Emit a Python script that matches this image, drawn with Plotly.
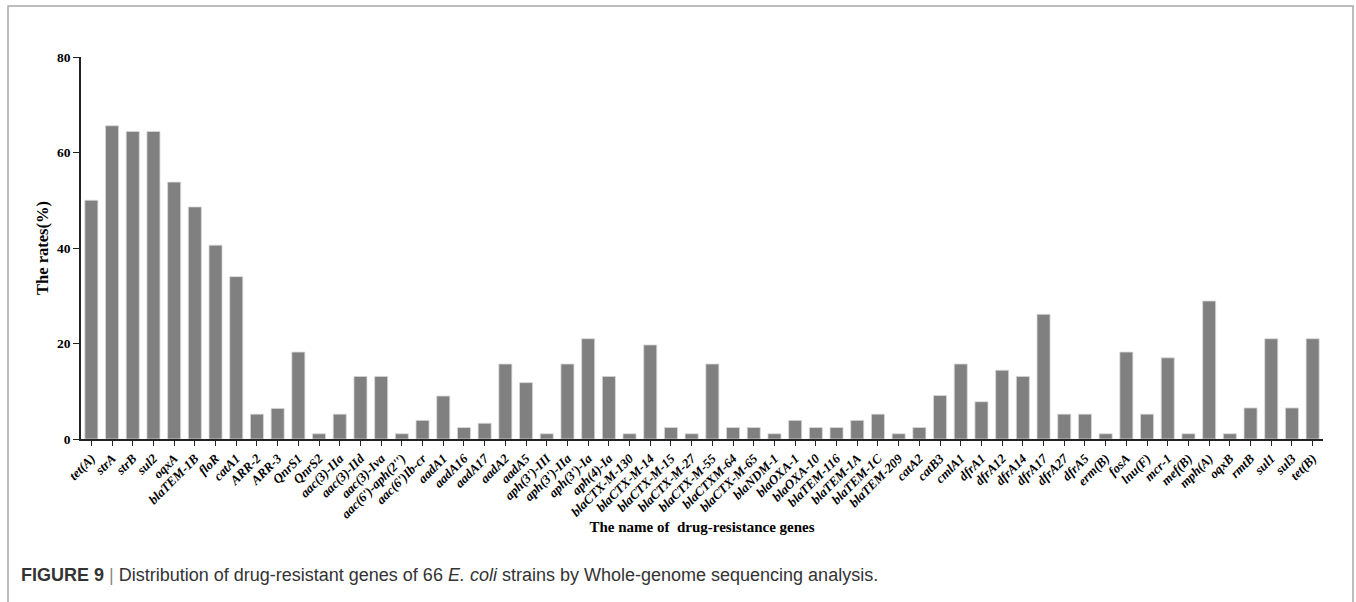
import plotly.graph_objects as go

# Drug-resistance genes detected by WGS and their detection rates (%)
genes = [
    "tet(A)", "strA", "strB", "sul2", "oqxA", "blaTEM-1B", "floR", "catA1",
    "ARR-2", "ARR-3", "QnrS1", "QnrS2", "aac(3)-IIa", "aac(3)-IId", "aac(3)-Iva",
    "aac(6')-aph(2'')", "aac(6')Ib-cr", "aadA1", "aadA16", "aadA17", "aadA2",
    "aadA5", "aph(3')-III", "aph(3')-IIa", "aph(3')-Ia", "aph(4)-Ia",
    "blaCTX-M-130", "blaCTX-M-14", "blaCTX-M-15", "blaCTX-M-27", "blaCTX-M-55",
    "blaCTXM-64", "blaCTX-M-65", "blaNDM-1", "blaOXA-1", "blaOXA-10",
    "blaTEM-116", "blaTEM-1A", "blaTEM-1C", "blaTEM-209", "catA2", "catB3",
    "cmlA1", "dfrA1", "dfrA12", "dfrA14", "dfrA17", "dfrA27", "dfrA5", "erm(B)",
    "fosA", "lnu(F)", "mcr-1", "mef(B)", "mph(A)", "oqxB", "rmtB", "sul1",
    "sul3", "tet(B)",
]
rates = [
    50.0, 65.6, 64.4, 64.4, 53.8, 48.6, 40.6, 34.0,
    5.2, 6.4, 18.2, 1.1, 5.2, 13.1, 13.1,
    1.1, 3.9, 9.0, 2.4, 3.3, 15.7,
    11.8, 1.1, 15.7, 21.0, 13.1,
    1.1, 19.7, 2.4, 1.1, 15.7,
    2.4, 2.4, 1.1, 3.9, 2.4,
    2.4, 3.9, 5.2, 1.1, 2.4, 9.1,
    15.7, 7.8, 14.4, 13.1, 26.1, 5.2, 5.2, 1.1,
    18.2, 5.2, 17.0, 1.1, 28.9, 1.1, 6.5, 21.0,
    6.5, 21.0,
]
y_ticks = [0, 20, 40, 60, 80]

tick_text = [f"<b><i>{g}</i></b>" for g in genes]

fig = go.Figure(
    go.Bar(
        x=list(range(len(genes))),
        y=rates,
        marker=dict(color="#808080", line=dict(color="#d8d8d8", width=0.8)),
        width=0.63,
    )
)

serif = "Liberation Serif, Times New Roman, serif"

fig.update_layout(
    width=1356,
    height=602,
    margin=dict(l=81, r=33, t=57, b=163),
    paper_bgcolor="white",
    plot_bgcolor="white",
    showlegend=False,
    font=dict(family=serif, color="black"),
    xaxis=dict(
        range=[-0.5, len(genes) - 0.5],
        tickmode="array",
        tickvals=list(range(len(genes))),
        ticktext=tick_text,
        tickangle=-45,
        tickfont=dict(family=serif, size=13, color="black"),
        showline=True,
        linecolor="#222",
        linewidth=1.5,
        ticks="outside",
        ticklen=5,
        tickcolor="#222",
        showgrid=False,
        zeroline=False,
        title=dict(
            text="<b>The name of  drug-resistance genes</b>",
            font=dict(family=serif, size=15, color="black"),
            standoff=1,
        ),
    ),
    yaxis=dict(
        range=[0, 80],
        tickvals=y_ticks,
        ticktext=[f"<b>{v}</b>" for v in y_ticks],
        tickfont=dict(family=serif, size=13.5, color="black"),
        showline=True,
        linecolor="#222",
        linewidth=1.5,
        ticks="outside",
        ticklen=6,
        tickcolor="#222",
        showgrid=False,
        zeroline=False,
        title=dict(
            text="<b>The rates(%)</b>",
            font=dict(family=serif, size=16.5, color="black"),
            standoff=4,
        ),
    ),
)

# Light frame around the whole figure area
plot_w = 1356 - 81 - 33
plot_h = 602 - 57 - 163
def px_x(p):
    return (p - 81) / plot_w
def px_y(p):
    return (602 - 163 - p) / plot_h

fig.add_shape(
    type="rect", xref="paper", yref="paper",
    x0=px_x(8), x1=px_x(1353), y0=px_y(640), y1=px_y(6),
    line=dict(color="#a8a8a8", width=1.5), fillcolor="rgba(0,0,0,0)",
    layer="below",
)

# Figure caption
fig.add_annotation(
    xref="paper", yref="paper",
    x=px_x(19), y=px_y(575),
    xanchor="left", yanchor="middle",
    showarrow=False,
    text=("<b>FIGURE 9</b> <span style='color:#888'>|</span> Distribution of drug-resistant genes of 66 "
          "<i>E. coli</i> strains by Whole-genome sequencing analysis."),
    font=dict(family="Liberation Sans, Arial, sans-serif", size=18, color="#333"),
)

fig.write_html("out.html")
